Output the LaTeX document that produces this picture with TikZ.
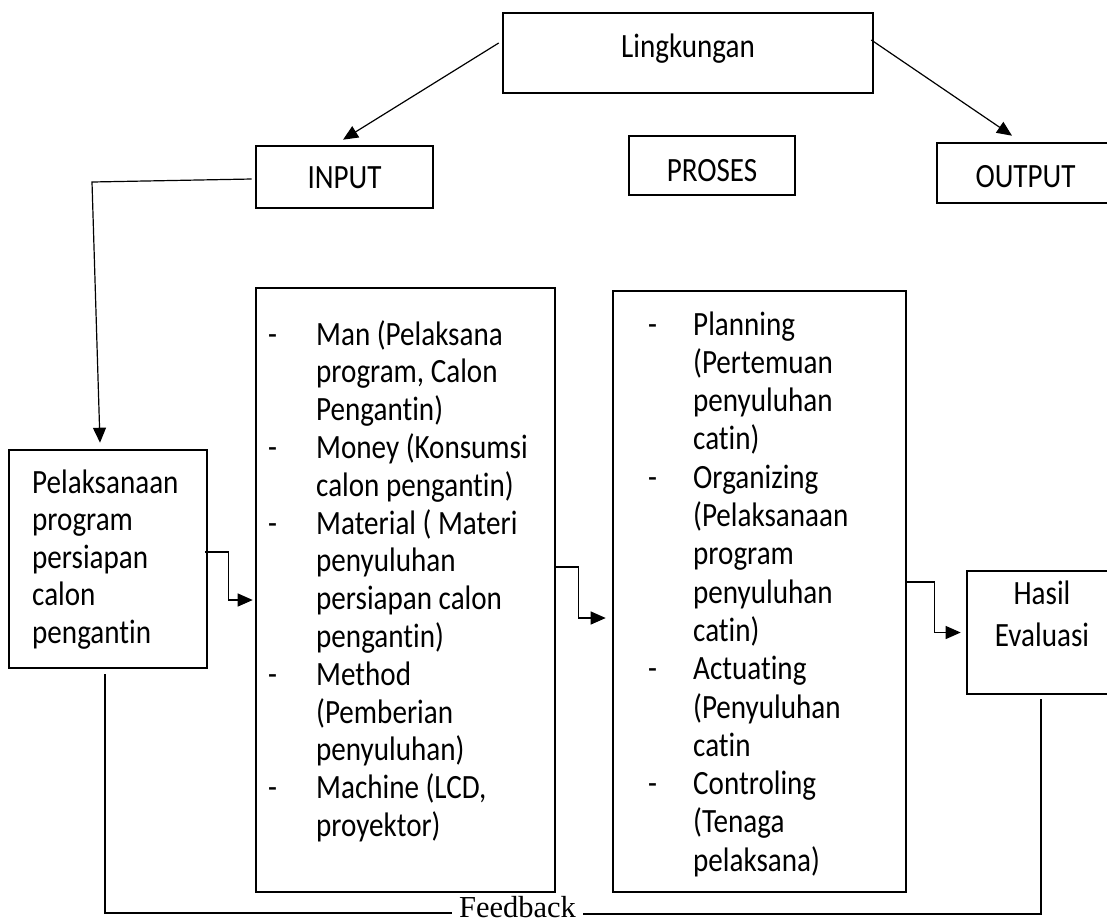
\documentclass[tikz,border=0pt]{standalone}
\usepackage{fontspec}
\setmainfont{Carlito}[FakeStretch=0.856, Ligatures=NoCommon]
\newfontfamily\fbfont{Liberation Serif}
\usetikzlibrary{arrows.meta}
\begin{document}
\begin{tikzpicture}[x=1pt,y=-1pt,
  box/.style={draw, line width=2.6pt, inner sep=0pt},
  conn/.style={line width=1.2pt},
  arr/.style={conn, -{Triangle[length=15pt,width=13pt]}},
  txt/.style={inner sep=0pt, font=\fontsize{34}{38}\selectfont},
  ]
\useasboundingbox (0,0) rectangle (1107,922);
\clip (0,0) rectangle (1107,922);

% boxes
\node[box, minimum width=370pt, minimum height=80pt] (ling) at (688,53) {};
\node[box, minimum width=177pt, minimum height=62pt] (input) at (344.5,177) {};
\node[box, minimum width=166pt, minimum height=59pt] (proses) at (712,165.5) {};
\node[box, minimum width=177pt, minimum height=60pt] (output) at (1025.5,173) {};
\node[box, minimum width=198pt, minimum height=218pt] (pel) at (108,559) {};
\node[box, minimum width=299pt, minimum height=604pt] (b2) at (405.5,590) {};
\node[box, minimum width=293pt, minimum height=601pt] (b3) at (759.5,591.5) {};
\node[box, minimum width=150pt, minimum height=123pt] (hasil) at (1042,632.5) {};

% texts
\node[txt, anchor=base] (lingt) at (688,57) {Lingkungan};
\node[txt, anchor=base] (inputt) at (344.5,188.5) {INPUT};
\node[txt, anchor=base] (prosest) at (712,181) {PROSES};
\node[txt, anchor=base] (outputt) at (1025.5,187) {OUTPUT};

\node[txt, anchor=base west, font=\fontsize{34}{37.6}\selectfont] (pelt) at (32,493)
  {\begin{tabular}[t]{@{}l@{}}Pelaksanaan\\program\\persiapan\\calon\\pengantin\end{tabular}};

\node[txt, anchor=base west, font=\fontsize{34}{37.8}\selectfont] (b2t) at (268,345)
  {\begin{tabular}[t]{@{}p{48pt}@{}l@{}}
  -&Man (Pelaksana\\&program, Calon\\&Pengantin)\\
  -&Money (Konsumsi\\&calon pengantin)\\
  -&Material ( Materi\\&penyuluhan\\&persiapan calon\\&pengantin)\\
  -&Method\\&(Pemberian\\&penyuluhan)\\
  -&Machine (LCD,\\&proyektor)
  \end{tabular}};

\node[txt, anchor=base west, font=\fontsize{34}{38.3}\selectfont] (b3t) at (648,335)
  {\begin{tabular}[t]{@{}p{45pt}@{}l@{}}
  -&Planning\\&(Pertemuan\\&penyuluhan\\&catin)\\
  -&Organizing\\&(Pelaksanaan\\&program\\&penyuluhan\\&catin)\\
  -&Actuating\\&(Penyuluhan\\&catin\\
  -&Controling\\&(Tenaga\\&pelaksana)
  \end{tabular}};

\node[txt, anchor=base] (hasilt) at (1042,604)
  {\begin{tabular}[t]{@{}c@{}}Hasil\\[4pt]Evaluasi\end{tabular}};

\node[inner xsep=7pt, inner ysep=0pt, anchor=base, font=\fbfont\fontsize{30.5}{36}\selectfont] (fb) at (517.5,917) {Feedback};

% connectors
\coordinate (bend) at (92,182);
\draw[arr] ([xshift=-3pt,yshift=10pt]ling.west) -- ([xshift=-1.5pt,yshift=5pt]input.north);
\draw[arr] ([xshift=-3pt,yshift=13pt]ling.east) -- ([xshift=-13.5pt,yshift=6pt]output.north);
\draw[arr] ([xshift=-3pt,yshift=-2pt]input.west) -- (bend) -- ([xshift=-8pt,yshift=6pt]pel.north);
\draw[arr] ([xshift=-3pt,yshift=7pt]pel.east) -- ++(23,0) |- ([xshift=-2pt,yshift=-10pt]b2.west);
\draw[arr] ([xshift=-2pt,yshift=23pt]b2.east) -- ++(24,0) |- ([xshift=-6pt,yshift=-26.5pt]b3.west);
\draw[arr] ([yshift=9.5pt]b3.east) -- ++(27,0) |- ([xshift=-5pt]hasil.west);
\draw[conn] ([xshift=-3pt,yshift=-5pt]pel.south) |- ([yshift=4pt]fb.base west);
\draw[conn] ([yshift=3pt]fb.base east) -| ([xshift=-1pt,yshift=-4pt]hasil.south);
\end{tikzpicture}
\end{document}
